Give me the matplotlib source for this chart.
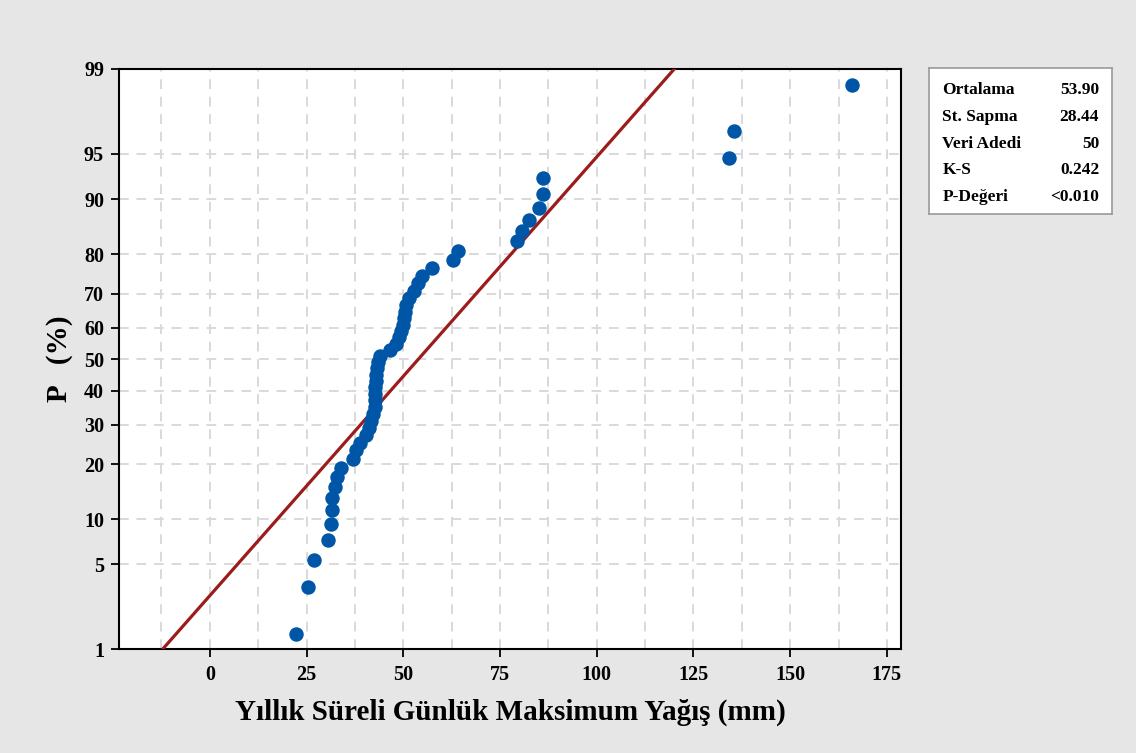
import numpy as np
import matplotlib
matplotlib.use("Agg")
import matplotlib.pyplot as plt
from statistics import NormalDist

# yıllık maksimum günlük yağış (mm), sıralı
yagis = [22.4, 25.5, 27.0, 30.5, 31.5, 31.4, 31.6, 32.3, 32.8, 34.0,
         37.0, 37.9, 38.8, 40.3, 41.2, 41.7, 42.2, 42.6, 42.7, 42.8,
         42.8, 42.9, 43.0, 43.2, 43.4, 43.9, 46.5, 48.1, 48.9, 49.4,
         49.9, 50.1, 50.4, 50.7, 51.4, 52.7, 53.9, 54.8, 57.4, 62.9,
         64.2, 79.5, 80.6, 82.5, 85.0, 86.0, 86.0, 134.3, 135.4, 165.9]

ORTALAMA = 53.90
ST_SAPMA = 28.44
istat_ad = ["Ortalama", "St. Sapma", "Veri Adedi", "K-S", "P-Değeri"]
istat_deger = ["53.90", "28.44", "50", "0.242", "<0.010"]

p_ticks = [1, 5, 10, 20, 30, 40, 50, 60, 70, 80, 90, 95, 99]
x_ticks = [0, 25, 50, 75, 100, 125, 150, 175]

ND = NormalDist()
_ppf = np.vectorize(lambda p: ND.inv_cdf(min(max(p / 100.0, 1e-9), 1 - 1e-9)),
                    otypes=[float])
_cdf = np.vectorize(lambda z: 100.0 * ND.cdf(z), otypes=[float])

def fwd(p):
    return _ppf(np.asarray(p, dtype=float))

def inv(z):
    return _cdf(np.asarray(z, dtype=float))

n = len(yagis)
x = np.sort(yagis)
p_med = (np.arange(1, n + 1) - 0.3) / (n + 0.4) * 100  # Benard medyan sıraları

SERIF = "Liberation Serif"
BG = "#e6e6e6"

fig = plt.figure(figsize=(11.36, 7.53), dpi=100, facecolor=BG)
ax = fig.add_axes([0.105, 0.1375, 0.688, 0.771])
ax.set_yscale("function", functions=(fwd, inv))

# normal dağılım doğrusu: x = ort + s * z
p_line = np.array([1.0, 99.0])
x_line = ORTALAMA + ST_SAPMA * fwd(p_line)
ax.plot(x_line, p_line, color="#9c1c1c", lw=2.3, zorder=3)
ax.plot(x, p_med, "o", color="#0056a6", ms=9.4, mec="#0056a6", zorder=4)

ax.set_xlim(-23.4, 178.6)
ax.set_ylim(1, 99)
ax.set_xticks(x_ticks)
ax.set_xticks(np.arange(-12.5, 178, 12.5), minor=True)
ax.set_yticks(p_ticks)
ax.set_yticks([], minor=True)
ax.set_yticklabels([str(t) for t in p_ticks])
ax.set_xticklabels([str(t) for t in x_ticks])
ax.tick_params(axis="x", which="minor", length=0)
ax.tick_params(which="major", direction="out", length=6, width=1.3,
               labelsize=14.5, pad=5)
for lab in ax.get_xticklabels() + ax.get_yticklabels():
    lab.set_family(SERIF)
    lab.set_fontweight("bold")

ax.grid(True, which="both", axis="x", color="#d9d9d9", ls=(0, (5, 4)), lw=1.4)
ax.grid(True, which="major", axis="y", color="#d9d9d9", ls=(0, (5, 4)), lw=1.4)
ax.set_axisbelow(True)
for s in ax.spines.values():
    s.set_linewidth(1.5)
    s.set_color("black")

xl = ax.set_xlabel("Yıllık Süreli Günlük Maksimum Yağış (mm)", family=SERIF,
                   fontweight="bold", fontsize=21)
yl = ax.set_ylabel("P   (%)", family=SERIF, fontweight="bold", fontsize=21)
ax.xaxis.set_label_coords(0.5, -0.109)
xl.set_va("center")
ax.yaxis.set_label_coords(-0.077, 0.5)
yl.set_va("center")

# istatistik kutusu
kutu = fig.add_axes([928.5 / 1136, 1 - 214 / 753, 183.5 / 1136, 146 / 753])
kutu.set_xlim(0, 1)
kutu.set_ylim(0, 1)
kutu.set_xticks([])
kutu.set_yticks([])
for s in kutu.spines.values():
    s.set_color("#9a9a9a")
    s.set_linewidth(1.2)
for i, (ad, deg) in enumerate(zip(istat_ad, istat_deger)):
    yy = 1 - (22 + 26.8 * i) / 146
    kutu.text(0.075, yy, ad, family=SERIF, fontweight="bold", fontsize=12.5,
              va="center", ha="left")
    kutu.text(0.93, yy, deg, family=SERIF, fontweight="bold", fontsize=12.5,
              va="center", ha="right")

fig.savefig("out.png", dpi=100, facecolor=BG)
